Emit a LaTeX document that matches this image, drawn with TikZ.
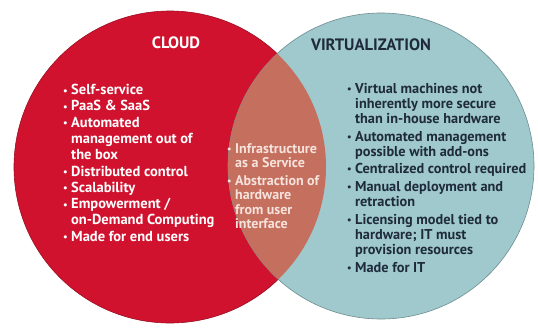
\documentclass[tikz,border=0pt]{standalone}
\usepackage{fontspec}
\setmainfont{PT Sans}
\usepackage{tikz}
\definecolor{CloudRed}{HTML}{D0122E}
\definecolor{VirtBlue}{HTML}{9FC9CD}
\definecolor{Overlap}{HTML}{C56F5F}
\definecolor{Ink}{HTML}{1F2B3A}
\definecolor{Blush}{HTML}{F6E3DC}
\newcommand{\bul}{\makebox[8pt][l]{\raisebox{0.5pt}{\scalebox{0.7}{\textbullet}}}}
\newcommand{\ind}{\hspace*{8pt}}

\begin{document}
\begin{tikzpicture}[x=1pt,y=-1pt]
    \tikzset{listtxt/.style={anchor=north west,inner sep=0pt,align=left,font=\bfseries\fontsize{14.5}{16.3}\selectfont},
      title/.style={font=\bfseries\fontsize{16.5}{18}\selectfont}}
    \useasboundingbox (0,0) rectangle (538,327);
    \fill[white] (0,0) rectangle (538,327);

    % circles
    \fill[CloudRed,draw=CloudRed!75!black,line width=0.6pt] (170,167) circle (156);
    \fill[VirtBlue,draw=VirtBlue!70!black,line width=0.6pt] (381,166) circle (153);
    \begin{scope}
      \clip (381,166) circle (153);
      \fill[Overlap] (170,167) circle (156);
    \end{scope}

    % titles
    \node[title,text=white] (cloud) at (176,43) {CLOUD};
    \node[title,text=Ink] (virt) at (371,45) {VIRTUALIZATION};

    % Cloud
    \node[listtxt,text=white] (cloudlist) at (63,84) {%
      \bul Self-service\\
      \bul PaaS \& SaaS\\
      \bul Automated\\
      \ind management out of\\
      \ind the box\\
      \bul Distributed control\\
      \bul Scalability\\
      \bul Empowerment /\\
      \ind on-Demand Computing\\
      \bul Made for end users};

    % Overlap
    \node[listtxt,text=Blush,font=\bfseries\fontsize{14}{14.4}\selectfont] (both) at (227,143) {%
      \bul Infrastructure\\
      \ind as a Service\\[3.5pt]
      \bul Abstraction of\\
      \ind hardware\\
      \ind from user\\
      \ind interface};

    % Virtualization
    \node[listtxt,text=Ink,font=\bfseries\fontsize{14.3}{15}\selectfont] (virtlist) at (347,83) {%
      \bul Virtual machines not\\
      \ind inherently more secure\\
      \ind than in-house hardware\\[3pt]
      \bul Automated management\\
      \ind possible with add-ons\\[2pt]
      \bul Centralized control required\\[3pt]
      \bul Manual deployment and\\
      \ind retraction\\[3pt]
      \bul Licensing model tied to\\
      \ind hardware; IT must\\
      \ind provision resources\\[3pt]
      \bul Made for IT};
  \end{tikzpicture}
\end{document}
